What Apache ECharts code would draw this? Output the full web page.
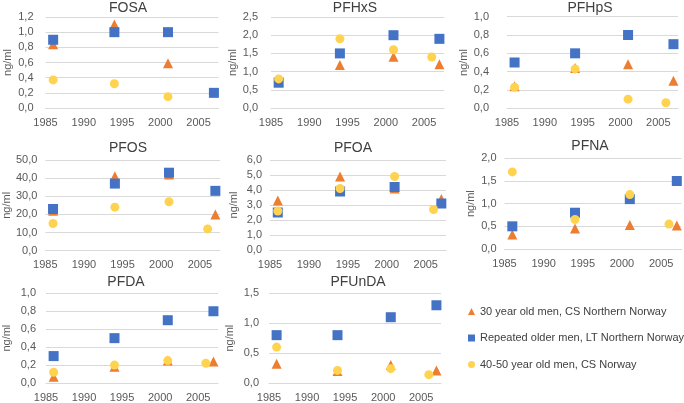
<!DOCTYPE html>
<html>
<head>
<meta charset="utf-8">
<script src="https://cdn.jsdelivr.net/npm/echarts@6/dist/echarts.min.js"></script>
<style>
html,body{margin:0;padding:0;background:#fff;}
#chart{width:684px;height:403px;}
</style>
</head>
<body>
<div id="chart"></div>
<script>
// ---- data ----
const compounds = ['FOSA','PFHxS','PFHpS','PFOS','PFOA','PFNA','PFDA','PFUnDA'];
const seriesNames = ['30 year old men, CS Northern Norway','Repeated older men, LT Northern Norway','40-50 year old men, CS Norway'];
const yearsNorth = [1986, 1994, 2001, 2007];
const yearsNorway = [1986, 1994, 2001, 2006];
const xTicks = [1985, 1990, 1995, 2000, 2005];
const yMax = [1.2, 2.5, 1.0, 50, 6, 2, 1, 1.5];
const yStep = [0.2, 0.5, 0.2, 10, 1, 0.5, 0.2, 0.5];

const FOSA_men30 = [0.84, 1.10, 0.59, null];
const FOSA_older = [0.90, 1.00, 1.00, 0.20];
const FOSA_cs = [0.37, 0.32, 0.15, null];
const PFHxS_men30 = [0.70, 1.18, 1.41, 1.20];
const PFHxS_older = [0.70, 1.50, 2.00, 1.90];
const PFHxS_cs = [0.80, 1.90, 1.60, 1.40];
const PFHpS_men30 = [0.24, 0.44, 0.48, 0.30];
const PFHpS_older = [0.50, 0.60, 0.80, 0.70];
const PFHpS_cs = [0.23, 0.43, 0.10, 0.06];
const PFOS_men30 = [22, 41, 42, 20];
const PFOS_older = [23, 37, 43, 33];
const PFOS_cs = [15, 24, 27, 12];
const PFOA_men30 = [3.3, 4.9, 4.1, 3.4];
const PFOA_older = [2.5, 3.9, 4.2, 3.1];
const PFOA_cs = [2.6, 4.1, 4.9, 2.7];
const PFNA_men30 = [0.32, 0.45, 0.53, 0.52];
const PFNA_older = [0.50, 0.80, 1.10, 1.50];
const PFNA_cs = [1.70, 0.65, 1.20, 0.55];
const PFDA_men30 = [0.07, 0.18, 0.25, 0.24];
const PFDA_older = [0.30, 0.50, 0.70, 0.80];
const PFDA_cs = [0.12, 0.20, 0.25, 0.22];
const PFUnDA_men30 = [0.32, 0.20, 0.30, 0.21];
const PFUnDA_older = [0.80, 0.80, 1.10, 1.30];
const PFUnDA_cs = [0.60, 0.21, 0.24, 0.14];

const men30 = [FOSA_men30, PFHxS_men30, PFHpS_men30, PFOS_men30, PFOA_men30, PFNA_men30, PFDA_men30, PFUnDA_men30];
const older = [FOSA_older, PFHxS_older, PFHpS_older, PFOS_older, PFOA_older, PFNA_older, PFDA_older, PFUnDA_older];
const cs = [FOSA_cs, PFHxS_cs, PFHpS_cs, PFOS_cs, PFOA_cs, PFNA_cs, PFDA_cs, PFUnDA_cs];

// ---- layout (pixels) ----
const layout = [
  {left:45.5, top:17,    w:173, h:91,  tx:128, ty:1,   gap:32, lm:12},
  {left:271,  top:17,    w:173, h:91,  tx:355, ty:1,   gap:33, lm:13},
  {left:507,  top:16.7,  w:171, h:91.6,tx:590, ty:1,   gap:31, lm:18},
  {left:45,   top:160,   w:175, h:90.7,tx:128, ty:141, gap:32, lm:8},
  {left:270,  top:160,   w:176, h:90,  tx:353, ty:141, gap:31, lm:8},
  {left:504.5,top:158.3, w:177, h:90.7,tx:590, ty:139, gap:28, lm:8},
  {left:45,   top:293.3, w:173, h:90,  tx:126, ty:275, gap:34, lm:10},
  {left:269,  top:293.3, w:172, h:90.7,tx:358, ty:275, gap:34, lm:10}
];
const X_MIN = 1985, X_MAX = 2007.6;

const colors = ['#ED7D31', '#4472C4', '#FFD34F'];
const symbols = ['triangle', 'rect', 'circle'];
const symSizes = [10, 10, 9];
const FONT = 'Liberation Sans, Arial, sans-serif';
const TXT = '#595959';

const grid = [], xAxis = [], yAxis = [], title = [], series = [];
compounds.forEach((name, i) => {
  const L = layout[i];
  grid.push({left: L.left, top: L.top, width: L.w, height: L.h, containLabel: false});
  title.push({text: name, left: L.tx, top: L.ty, textAlign: 'center', padding: 0,
    textStyle: {fontFamily: FONT, fontSize: 14, fontWeight: 'normal', color: '#404040'}});
  xAxis.push({type: 'value', gridIndex: i, min: X_MIN, max: X_MAX, interval: 5,
    axisLine: {show: true, lineStyle: {color: '#D9D9D9', width: 1}},
    axisTick: {show: false}, splitLine: {show: false},
    axisLabel: {fontFamily: FONT, fontSize: 11, color: TXT, margin: 9,
      showMaxLabel: false,
      formatter: v => xTicks.indexOf(v) >= 0 ? String(v) : ''}});
  yAxis.push({type: 'value', gridIndex: i, min: 0, max: yMax[i], interval: yStep[i],
    name: 'ng/ml', nameLocation: 'middle', nameGap: L.gap, nameRotate: 90,
    nameTextStyle: {fontFamily: FONT, fontSize: 11, color: TXT},
    axisLine: {show: false}, axisTick: {show: false},
    splitLine: {show: true, lineStyle: {color: '#D9D9D9', width: 1}},
    axisLabel: {fontFamily: FONT, fontSize: 11, color: TXT, margin: L.lm,
      formatter: v => v.toFixed(1).replace('.', ',')}});
  const sets = [men30[i], older[i], cs[i]];
  sets.forEach((vals, k) => {
    const yrs = k === 2 ? yearsNorway : yearsNorth;
    series.push({
      type: 'scatter', name: seriesNames[k], xAxisIndex: i, yAxisIndex: i,
      symbol: symbols[k], symbolSize: symSizes[k],
      itemStyle: {color: colors[k], opacity: 1},
      data: vals.map((v, j) => v == null ? null : [yrs[j], v]).filter(d => d),
      z: 2 + k, silent: true
    });
  });
});

const chart = echarts.init(document.getElementById('chart'), null, {renderer: 'canvas'});
chart.setOption({
  animation: false,
  backgroundColor: '#ffffff',
  title, grid, xAxis, yAxis, series,
  legend: {
    data: seriesNames.map((n, k) => ({name: n, icon: symbols[k]})),
    orient: 'vertical', left: 463, top: 300, padding: 5,
    itemWidth: 7, itemHeight: 7, itemGap: 13.5,
    textStyle: {fontFamily: FONT, fontSize: 11, color: '#404040', lineHeight: 13},
    selectedMode: false
  }
});
</script>
</body>
</html>
